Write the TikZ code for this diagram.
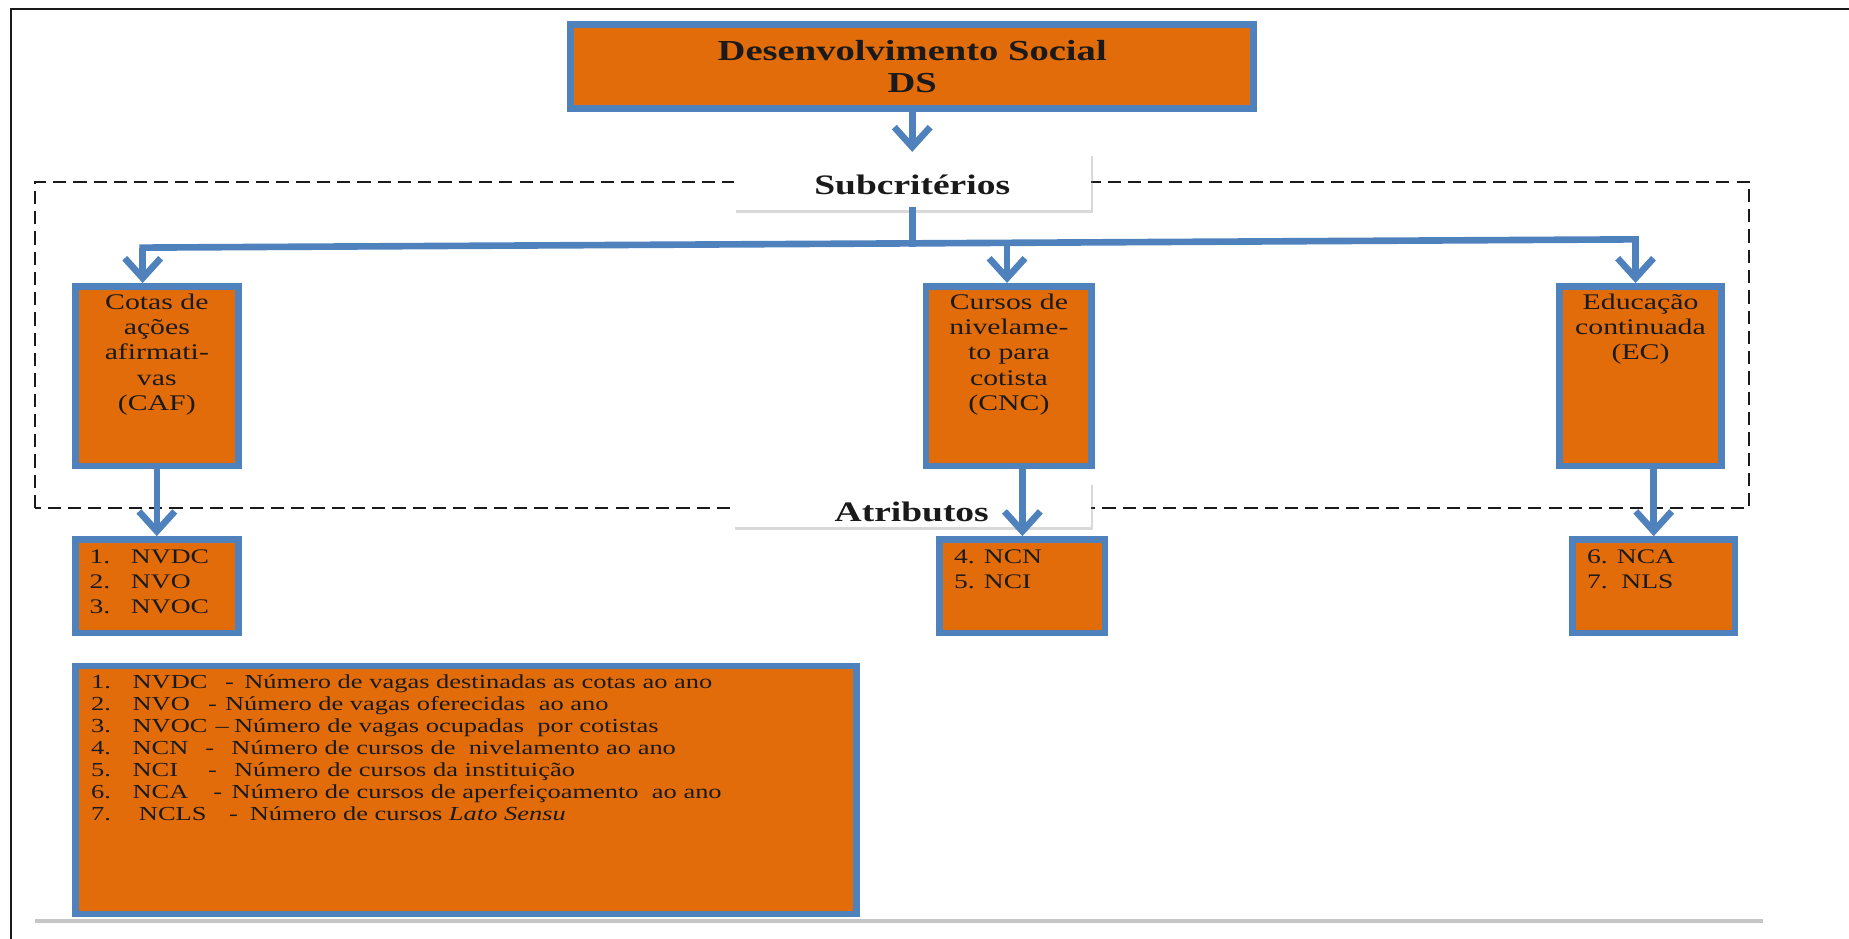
\documentclass[tikz,border=0pt]{standalone}
\usepackage{fontspec}
\setmainfont{Liberation Serif}[FakeStretch=1.33]
\usepackage{xcolor}
\usepackage{tikz}
\usetikzlibrary{arrows.meta,shadows,calc}
\definecolor{DsOrange}{HTML}{E36C0A}
\definecolor{DsBlue}{HTML}{4F81BD}
\definecolor{DsInk}{HTML}{1A1A1A}
\newcommand{\legcol}[2]{\makebox[#1][l]{#2}}

\begin{document}
\begin{tikzpicture}[x=1mm,y=1mm]
  \path[use as bounding box] (0,0) rectangle (392,199);

  \tikzset{
    dsBox/.style={
      draw=DsBlue,
      fill=DsOrange,
      line width=4pt,
      inner sep=0pt,
      drop shadow={opacity=.22,shadow xshift=.5mm,shadow yshift=-.6mm}
    },
    dsLabel/.style={
      fill=white,
      inner sep=0pt,
      text depth=0pt,
      font=\fontsize{17}{19}\selectfont\bfseries,
      text=DsInk,
      drop shadow={opacity=.3,shadow xshift=.5mm,shadow yshift=-.7mm}
    },
    dsText/.style={
      inner sep=0pt,
      align=center,
      font=\fontsize{13.5}{15.3}\selectfont,
      text=DsInk
    },
    dsList/.style={
      inner sep=0pt,
      align=left,
      font=\fontsize{12.5}{15.1}\selectfont,
      text=DsInk
    },
    dsFlow/.style={
      -{Straight Barb[length=4.2mm,width=7.6mm]},
      draw=DsBlue,
      line width=4pt
    },
    dsBus/.style={
      draw=DsBlue,
      line width=4pt,
      line cap=rect
    },
    dsDash/.style={
      draw=DsInk,
      line width=1.2pt,
      dash pattern=on 2.8mm off 1.5mm
    }
  }

  % moldura da figura
  \draw[DsInk,line width=1.2pt] (2.4,0) -- (2.4,197.1) -- (392,197.1);
  \draw[gray!45,line width=2.5pt] (7.5,3.75) -- (373.75,3.75);

  \draw[dsDash] (7.4,91.25) rectangle (370.9,160.5);

  \node[dsBox, minimum width=144.8mm, minimum height=17.85mm, align=center,
    font=\fontsize{17.5}{19}\selectfont\bfseries, text=DsInk] (ds) at (193.4,184.9)
    {Desenvolvimento Social\\DS};
  \node[dsLabel, minimum width=75.6mm, minimum height=12.25mm, text height=5.7mm]
    (sub) at (193.4,160.6) {Subcritérios};
  \draw[dsFlow] (ds.south) -- (sub.north);

  % subcritérios
  \node[dsBox, minimum width=34.6mm, minimum height=38.1mm] (caf) at (33.25,119.25) {};
  \node[dsBox, minimum width=35.1mm, minimum height=38.1mm] (cnc) at (213.9,119.25) {};
  \node[dsBox, minimum width=34.4mm, minimum height=38.1mm] (ec) at (347.8,119.25) {};
  \node[dsText, anchor=north] (caftext) at ([yshift=-2.2mm]caf.north)
    {Cotas de\\ações\\afirmati-\\vas\\(CAF)};
  \node[dsText, anchor=north] (cnctext) at ([yshift=-2.2mm]cnc.north)
    {Cursos de\\nivelame-\\to para\\cotista\\(CNC)};
  \node[dsText, anchor=north] (ectext) at ([yshift=-2.2mm]ec.north)
    {Educação\\continuada\\(EC)};

  \coordinate (busL) at (30.25,146.5);
  \coordinate (busR) at (346.75,148.25);
  \coordinate (busM) at ($(busL)!.515!(busR)$);
  \coordinate (busC) at ($(busL)!.579!(busR)$);
  \draw[dsBus] (sub.south) -- (sub.south |- busM);
  \draw[dsBus] (busL) -- (busR);
  \draw[dsFlow] (busL) -- (busL |- caf.north);
  \draw[dsFlow] (busC) -- (busC |- cnc.north);
  \draw[dsFlow] (busR) -- (busR |- ec.north);

  \node[dsLabel, minimum width=75.8mm, minimum height=9.5mm, text height=7.4mm]
    (atr) at (193.3,92.1) {Atributos};

  % atributos
  \node[dsBox, minimum width=34.6mm, minimum height=19.85mm] (cafatt) at (33.25,74.7) {};
  \node[dsBox, minimum width=35.1mm, minimum height=19.85mm] (cncatt) at (216.75,74.7) {};
  \node[dsBox, minimum width=34.4mm, minimum height=19.85mm] (ecatt) at (350.6,74.7) {};
  \node[dsList, anchor=north west] (cafatttext) at ([xshift=3.7mm,yshift=-2.9mm]cafatt.north west)
    {\legcol{8.75mm}{1.}NVDC\\\legcol{8.75mm}{2.}NVO\\\legcol{8.75mm}{3.}NVOC};
  \node[dsList, anchor=north west] (cncatttext) at ([xshift=3.7mm,yshift=-2.9mm]cncatt.north west)
    {4. NCN\\5. NCI};
  \node[dsList, anchor=north west] (ecatttext) at ([xshift=3.7mm,yshift=-2.9mm]ecatt.north west)
    {6. NCA\\7.\ \ NLS};

  \draw[dsFlow] (cafatt.north |- caf.south) -- (cafatt.north);
  \draw[dsFlow] (cncatt.north |- cnc.south) -- (cncatt.north);
  \draw[dsFlow] (ecatt.north |- ec.south) -- (ecatt.north);

  % legenda das siglas
  \node[dsBox, minimum width=165.6mm, minimum height=52.6mm] (legend) at (98.75,31.5) {};
  \node[dsList, anchor=north west, font=\fontsize{12}{13.3}\selectfont] (legendtext)
    at ([xshift=4mm,yshift=-2.4mm]legend.north west)
    {\legcol{8.8mm}{1.}\legcol{19.6mm}{NVDC}\legcol{4.1mm}{-}Número de vagas destinadas as cotas ao ano\\
     \legcol{8.8mm}{2.}\legcol{16mm}{NVO}\legcol{3.6mm}{-}Número de vagas oferecidas\ \ ao ano\\
     \legcol{8.8mm}{3.}\legcol{17.6mm}{NVOC}\legcol{3.9mm}{--}Número de vagas ocupadas\ \ por cotistas\\
     \legcol{8.8mm}{4.}\legcol{15.45mm}{NCN}\legcol{5.5mm}{-}Número de cursos de\ \ nivelamento ao ano\\
     \legcol{8.8mm}{5.}\legcol{16mm}{NCI}\legcol{5.5mm}{-}Número de cursos da instituição\\
     \legcol{8.8mm}{6.}\legcol{17.1mm}{NCA}\legcol{3.9mm}{-}Número de cursos de aperfeiçoamento\ \ ao ano\\
     \legcol{10.15mm}{7.}\legcol{19.1mm}{NCLS}\legcol{4.4mm}{-}Número de cursos \textit{Lato Sensu}};
\end{tikzpicture}
\end{document}
